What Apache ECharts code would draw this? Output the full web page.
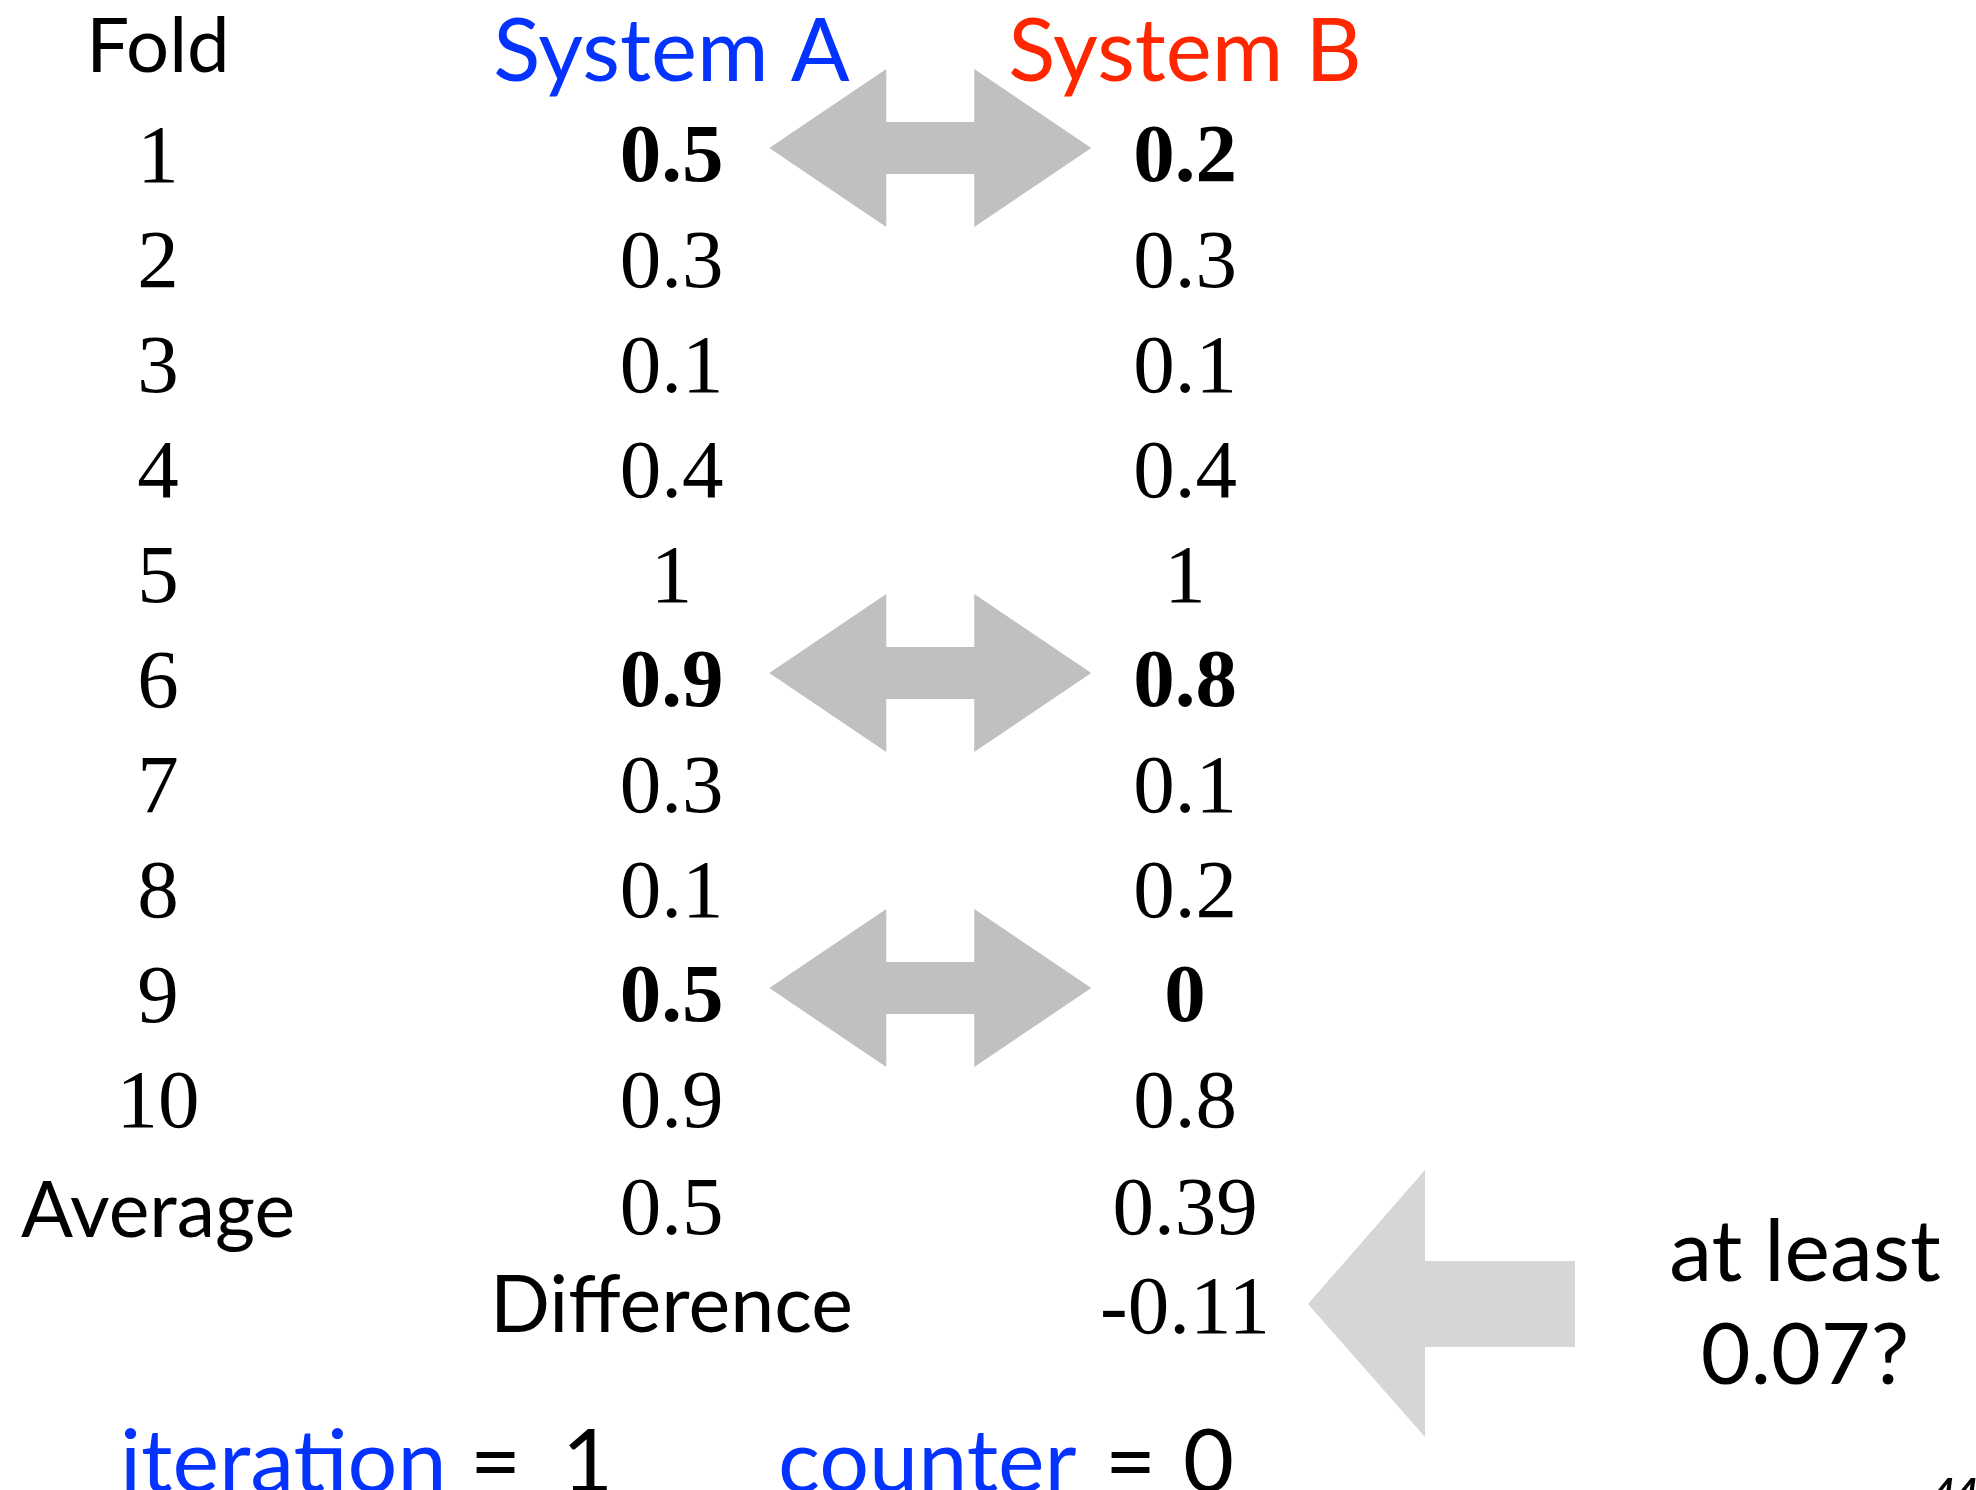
<!DOCTYPE html>
<html>
<head>
<meta charset="utf-8">
<script src="https://cdn.jsdelivr.net/npm/echarts@6/dist/echarts.min.js"></script>
<style>
html,body{margin:0;padding:0;background:#fff;}
#chart{width:1976px;height:1490px;}
</style>
</head>
<body>
<div id="chart"></div>
<script>
// ---- data ----
const columns = ['Fold', 'System A', 'System B'];
const folds = ['1', '2', '3', '4', '5', '6', '7', '8', '9', '10'];
const systemA = [0.5, 0.3, 0.1, 0.4, 1, 0.9, 0.3, 0.1, 0.5, 0.9];
const systemB = [0.2, 0.3, 0.1, 0.4, 1, 0.8, 0.1, 0.2, 0, 0.8];
const averageLabel = 'Average';
const averages = [0.5, 0.39];
const differenceLabel = 'Difference';
const difference = -0.11;
const swappedFolds = ['1', '6', '9'];
const threshold = 0.07;
const iteration = 1;
const counter = 0;
const pageNumber = '44';

const rows = ['header'].concat(folds, ['Average', 'Difference']);

// ---- styles ----
const SANS = 'Lato';
const SERIF = 'Liberation Serif';
const BLUE = '#0433ff';
const RED = '#ff2600';

function cell(col, row, text, style) {
  return {
    value: [col, row],
    label: Object.assign({
      show: true, position: 'inside', formatter: text, color: '#000',
      textBorderWidth: 0, textShadowBlur: 0
    }, style)
  };
}
const numStyle = (bold, dy) => ({
  fontFamily: SERIF, fontSize: 83, fontWeight: bold ? 'bold' : 'normal', offset: [0, dy]
});

const cells = [];
cells.push(cell(columns[0], 'header', columns[0], { fontFamily: SANS, fontSize: 76, offset: [0, -4] }));
cells.push(cell(columns[1], 'header', columns[1], { fontFamily: SANS, fontSize: 87, color: BLUE, offset: [0, 2] }));
cells.push(cell(columns[2], 'header', columns[2], { fontFamily: SANS, fontSize: 87, color: RED, offset: [0, 2] }));
folds.forEach((f, i) => {
  const bold = swappedFolds.indexOf(f) >= 0;
  cells.push(cell(columns[0], f, f, numStyle(false, 4)));
  cells.push(cell(columns[1], f, String(systemA[i]), numStyle(bold, 4)));
  cells.push(cell(columns[2], f, String(systemB[i]), numStyle(bold, 4)));
});
cells.push(cell(columns[0], 'Average', averageLabel, { fontFamily: SANS, fontSize: 77, offset: [0, 6] }));
cells.push(cell(columns[1], 'Average', String(averages[0]), numStyle(false, 6)));
cells.push(cell(columns[2], 'Average', String(averages[1]), numStyle(false, 6)));
cells.push(cell(columns[1], 'Difference', differenceLabel, { fontFamily: SANS, fontSize: 79, offset: [0, -4] }));
cells.push(cell(columns[2], 'Difference', String(difference), numStyle(false, 0)));

const chart = echarts.init(document.getElementById('chart'), null, { renderer: 'canvas' });

function bottomText(left, text, color) {
  return {
    type: 'text', left: left, top: 1420,
    style: { text: text, fontFamily: SANS, fontSize: 88, fill: color }
  };
}

chart.setOption({
  backgroundColor: '#fff',
  animation: false,
  grid: { left: 158, right: 791, top: 51, bottom: 179 },
  xAxis: { type: 'category', data: columns, boundaryGap: false, show: false },
  yAxis: { type: 'category', data: rows, boundaryGap: false, inverse: true, show: false },
  series: [
    {
      // swap arrows between System A and System B on swapped folds
      type: 'custom',
      z: 1,
      data: swappedFolds.map(f => [columns[1], f]),
      renderItem: function (params, api) {
        const row = api.value(1);
        const pa = api.coord([1, row]);
        const pb = api.coord([2, row]);
        const cx = (pa[0] + pb[0]) / 2 + 2;
        const cy = pa[1] - 8;
        const tip = 161, base = 44, headH = 79, shaftH = 26;
        return {
          type: 'polygon',
          shape: {
            points: [
              [cx - tip, cy], [cx - base, cy - headH], [cx - base, cy - shaftH],
              [cx + base, cy - shaftH], [cx + base, cy - headH], [cx + tip, cy],
              [cx + base, cy + headH], [cx + base, cy + shaftH], [cx - base, cy + shaftH],
              [cx - base, cy + headH]
            ]
          },
          style: { fill: '#c0c0c0' }
        };
      }
    },
    {
      // big arrow pointing at the difference
      type: 'custom',
      z: 1,
      data: [[columns[2], 'Difference']],
      renderItem: function (params, api) {
        const p = api.coord([api.value(0), api.value(1)]);
        const tx = p[0] + 123, cy = p[1] - 7;
        return {
          type: 'polygon',
          shape: {
            points: [
              [tx, cy], [tx + 117, cy - 134], [tx + 117, cy - 43], [tx + 267, cy - 43],
              [tx + 267, cy + 43], [tx + 117, cy + 43], [tx + 117, cy + 133]
            ]
          },
          style: { fill: '#d6d6d6' }
        };
      }
    },
    {
      type: 'scatter',
      z: 3,
      symbolSize: 0,
      itemStyle: { opacity: 1, color: 'rgba(0,0,0,0)', borderWidth: 0 },
      data: cells,
      label: { show: true, position: 'inside' }
    }
  ],
  graphic: [
    bottomText(120, 'iteration', BLUE),
    bottomText(470, '=', '#000'),
    bottomText(562, String(iteration), '#000'),
    bottomText(778, 'counter', BLUE),
    bottomText(1105, '=', '#000'),
    bottomText(1183, String(counter), '#000'),
    {
      type: 'text',
      x: 1805, y: 1305,
      style: {
        text: 'at least\n' + threshold + '?',
        fontFamily: SANS, fontSize: 86, fill: '#000',
        align: 'center', verticalAlign: 'middle', lineHeight: 103
      }
    },
    {
      type: 'text',
      left: 1932, top: 1474,
      style: { text: pageNumber, fontFamily: SANS, fontSize: 40, fontWeight: 'bold', fontStyle: 'italic', fill: '#000' }
    }
  ]
});
</script>
</body>
</html>
